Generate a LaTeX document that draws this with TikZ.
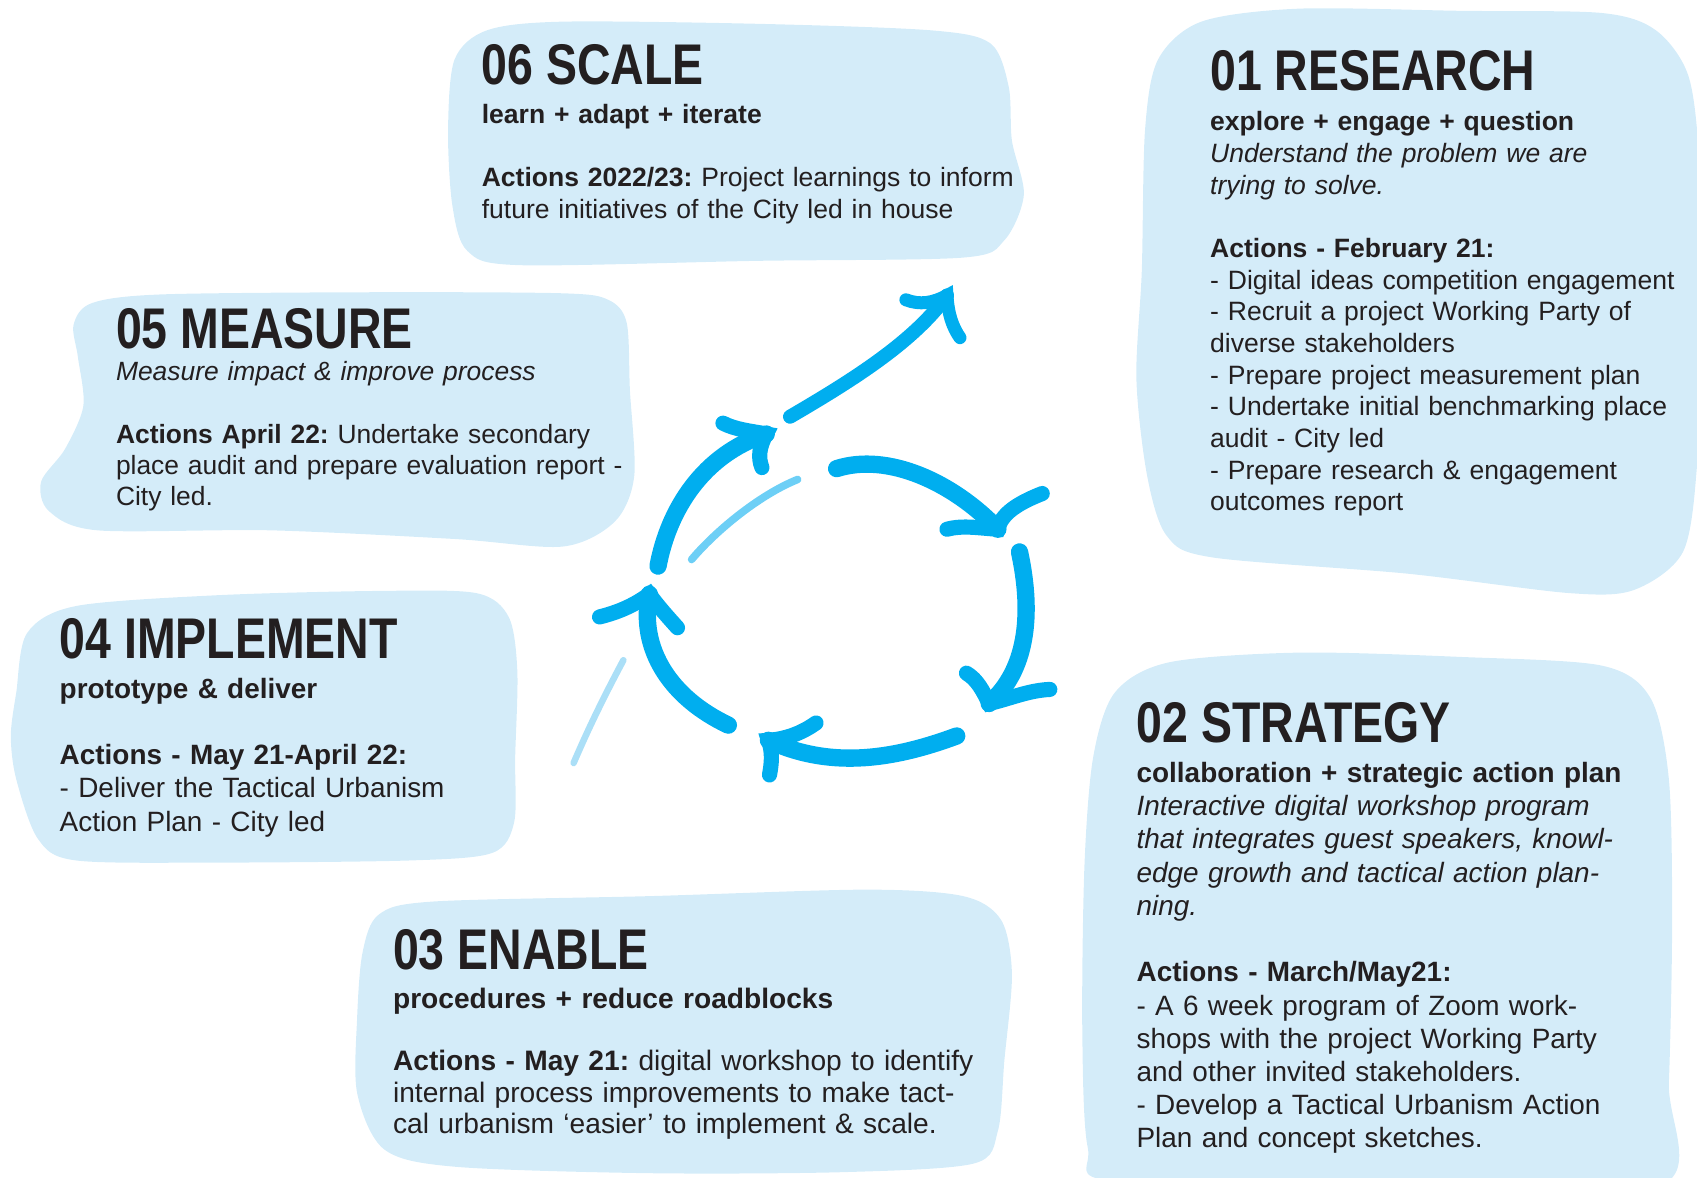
\documentclass[tikz,border=0pt]{standalone}
\usepackage{fontspec}
\setmainfont{Liberation Sans}
\newfontfamily\headfont{Liberation Sans}[FakeStretch=0.81]
\definecolor{ink}{HTML}{231F20}
\definecolor{cloud}{HTML}{D4ECF9}
\definecolor{cyclecyan}{HTML}{00AEEF}
\definecolor{streakcyan}{HTML}{6DCFF6}
\definecolor{pale}{HTML}{ABDFF7}
\frenchspacing

\begin{document}
\begin{tikzpicture}[x=1pt, y=-1pt]
%Declaration of styles
	\tikzstyle{cloudfill} = [fill=cloud] %soft blue background shapes
	\tikzstyle{head} = [anchor=base west, inner sep=0, text=ink, font=\headfont\bfseries\fontsize{53}{53}\selectfont] %step titles
	\tikzstyle{body} = [anchor=base west, inner sep=0, text=ink, text width=600pt, align=left] %text under the titles
	\tikzstyle{cycle} = [draw=cyclecyan, line width=16pt, line cap=round, line join=round] %brush arrows
	\tikzstyle{barb} = [draw=cyclecyan, line width=14pt, line cap=round] %arrow heads
\useasboundingbox (0,0) rectangle (1568,1088);
%Background shapes
	\fill [cloudfill] plot [smooth cycle] coordinates {(414,120) (420,55) (450,28) (520,20) (700,22) (860,28) (915,40) (932,80) (935,130) (946,180) (928,222) (890,238) (700,241) (480,245) (432,232) (418,190)};
	\fill [cloudfill] plot [smooth cycle] coordinates {(1058,120) (1070,55) (1110,20) (1200,8) (1350,10) (1480,12) (1530,28) (1560,70) (1570,150) (1572,300) (1568,430) (1555,510) (1510,545) (1450,548) (1300,530) (1120,515) (1078,495) (1060,440) (1050,350) (1055,250)};
	\fill [cloudfill] plot [smooth cycle] coordinates {(68,300) (85,280) (150,272) (350,270) (520,271) (562,277) (579,298) (582,360) (586,440) (568,482) (520,505) (420,498) (250,490) (90,490) (45,472) (38,445) (60,415) (77,375) (72,330)};
	\fill [cloudfill] plot [smooth cycle] coordinates {(15,640) (25,585) (70,560) (200,550) (350,546) (440,548) (470,570) (478,620) (476,700) (475,760) (455,788) (380,795) (200,797) (70,795) (35,775) (15,720) (10,680)};
	\fill [cloudfill] plot [smooth cycle] coordinates {(335,880) (350,845) (400,833) (600,828) (800,822) (890,828) (925,850) (935,900) (928,980) (922,1045) (900,1075) (780,1083) (600,1084) (420,1078) (355,1062) (330,1010) (330,940)};
	\fill [cloudfill] plot [smooth cycle] coordinates {(1010,700) (1030,640) (1080,612) (1200,603) (1350,607) (1480,615) (1525,645) (1542,720) (1545,850) (1542,1000) (1535,1095) (1300,1100) (1030,1092) (1005,1060) (1000,950) (1002,800)};
%Nodes, the texts of the steps
	\node [head] (researchhead) at (1118,84) {01 RESEARCH};
	\node [body, font=\fontsize{24.5}{29.25}\selectfont] (researchtext) at (1118,121) {\textbf{explore + engage + question}\\ \textit{Understand the problem we are}\\ \textit{trying to solve.}\\ ~\\ \textbf{Actions - February 21:}\\ - Digital ideas competition engagement\\ - Recruit a project Working Party of\\ diverse stakeholders\\ - Prepare project measurement plan\\ - Undertake initial benchmarking place\\ audit - City led\\ - Prepare research \& engagement\\ outcomes report};
	\node [head] (strategyhead) at (1050,686) {02 STRATEGY};
	\node [body, font=\fontsize{25.8}{30.7}\selectfont] (strategytext) at (1050,723) {\textbf{collaboration + strategic action plan}\\ \textit{Interactive digital workshop program}\\ \textit{that integrates guest speakers, knowl-}\\ \textit{edge growth and tactical action plan-}\\ \textit{ning.}\\ ~\\ \textbf{Actions - March/May21:}\\ - A 6 week program of Zoom work-\\ shops with the project Working Party\\ and other invited stakeholders.\\ - Develop a Tactical Urbanism Action\\ Plan and concept sketches.};
	\node [head] (enablehead) at (363,896) {03 ENABLE};
	\node [body, font=\fontsize{26}{28.75}\selectfont] (enabletext) at (363,932) {\textbf{procedures + reduce roadblocks}\\ ~\\ \textbf{Actions - May 21:} digital workshop to identify\\ internal process improvements to make tact-\\ cal urbanism ‘easier’ to implement \& scale.};
	\node [head] (implementhead) at (55,608) {04 IMPLEMENT};
	\node [body, font=\fontsize{25.8}{30.75}\selectfont] (implementtext) at (55,645) {\textbf{prototype \& deliver}\\ ~\\ \textbf{Actions - May 21-April 22:}\\ - Deliver the Tactical Urbanism\\ Action Plan - City led};
	\node [head] (measurehead) at (107,322) {05 MEASURE};
	\node [body, font=\fontsize{24.4}{28.75}\selectfont] (measuretext) at (107,352) {\textit{Measure impact \& improve process}\\ ~\\ \textbf{Actions April 22:} Undertake secondary\\ place audit and prepare evaluation report -\\ City led.};
	\node [head] (scalehead) at (445,78) {06 SCALE};
	\node [body, font=\fontsize{24.5}{29.3}\selectfont] (scaletext) at (445,114) {\textbf{learn + adapt + iterate}\\ ~\\ \textbf{Actions 2022/23:} Project learnings to inform\\ future initiatives of the City led in house};
%Tips of the cycle arrows
	\coordinate (tipscale) at (875,273);
	\coordinate (tipmeasure) at (708,401);
	\coordinate (tipresearch) at (922,489);
	\coordinate (tipstrategy) at (914,650);
	\coordinate (tipenable) at (710,684);
	\coordinate (tipimplement) at (600,549);
%Faint strokes inside the cycle
	\draw [streakcyan, line width=7pt, line cap=round] (639,517) .. controls (660,492) and (700,458) .. (737,443);
	\draw [pale, line width=6pt, line cap=round] (530,705) .. controls (545,670) and (560,640) .. (576,610);
%Cycle arrows
	\draw [cycle, line width=13pt] (730,385) .. controls (790,350) and (845,315) .. (tipscale);
	\draw [barb, line width=12pt] (837,277) .. controls (850,282) and (862,280) .. (tipscale) .. controls (876,290) and (880,302) .. (887,312);
	\draw [cycle] (608,523) .. controls (618,470) and (650,420) .. (tipmeasure);
	\draw [barb] (668,391) .. controls (680,397) and (692,398) .. (tipmeasure) .. controls (702,412) and (700,422) .. (704,432);
	\draw [cycle] (773,433) .. controls (820,418) and (880,445) .. (tipresearch);
	\draw [barb] (875,489) .. controls (890,485) and (905,488) .. (tipresearch) .. controls (925,475) and (940,465) .. (963,456);
	\draw [cycle] (942,510) .. controls (955,570) and (948,620) .. (tipstrategy);
	\draw [barb] (893,622) .. controls (903,628) and (908,638) .. (tipstrategy) .. controls (935,645) and (950,638) .. (970,637);
	\draw [cycle] (884,680) .. controls (830,700) and (770,712) .. (tipenable);
	\draw [barb] (754,668) .. controls (740,678) and (725,683) .. (tipenable) .. controls (714,695) and (713,705) .. (711,716);
	\draw [cycle] (673,670) .. controls (620,645) and (590,600) .. (tipimplement);
	\draw [barb] (554,570) .. controls (570,566) and (585,560) .. (tipimplement) .. controls (608,560) and (617,570) .. (626,580);
\end{tikzpicture}
\end{document}
